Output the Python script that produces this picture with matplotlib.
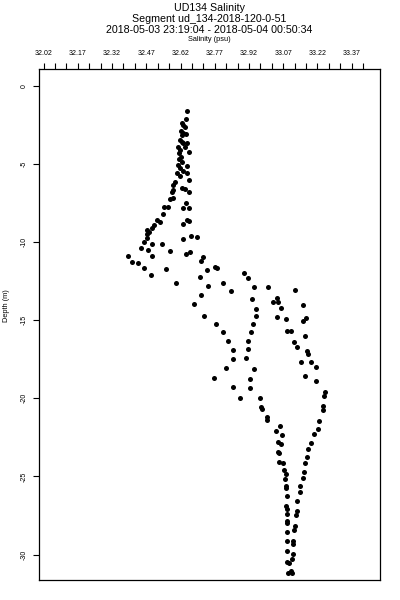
#!/usr/bin/env python

import numpy as np
import matplotlib
matplotlib.use("Agg")
import matplotlib.pyplot as plt

plt.rcParams["font.family"] = ["Liberation Sans", "DejaVu Sans"]

# Upper mixed column
sal_upper = [32.648, 32.646, 32.626, 32.633, 32.640, 32.621, 32.633, 32.626, 32.643, 32.618,
             32.626, 32.633, 32.650, 32.611, 32.640, 32.618, 32.655, 32.615, 32.621, 32.615,
             32.626, 32.648, 32.611, 32.618, 32.630, 32.648, 32.604, 32.618, 32.655, 32.597,
             32.626, 32.640, 32.589, 32.589, 32.582, 32.655, 32.572, 32.589, 32.645, 32.548,
             32.567, 32.630, 32.659]
depth_upper = [-1.58, -2.08, -2.39, -2.50, -2.61, -2.86, -2.99, -3.14, -3.09, -3.46,
               -3.57, -3.67, -3.63, -3.89, -3.89, -4.10, -4.21, -4.31, -4.53, -4.69,
               -4.85, -5.12, -5.06, -5.27, -5.42, -5.55, -5.59, -5.76, -6.02, -6.13,
               -6.55, -6.61, -6.34, -6.66, -6.81, -6.81, -7.23, -7.15, -7.51, -7.73,
               -7.77, -7.83, -7.79]

# Pycnocline region
sal_mid = [32.543, 32.516, 32.528, 32.648, 32.658, 32.633, 32.506, 32.495, 32.475, 32.484,
           32.473, 32.475, 32.462, 32.495, 32.541, 32.630, 32.667, 32.694, 32.448, 32.477,
           32.575, 32.388, 32.495, 32.645, 32.662, 32.407, 32.433, 32.458, 32.557, 32.491,
           32.600, 32.718, 32.709, 32.734, 32.707, 32.772, 32.782, 32.805, 32.842, 32.899,
           32.915]
depth_mid = [-8.21, -8.58, -8.73, -8.58, -8.64, -8.85, -8.90, -9.11, -9.22, -9.33,
             -9.49, -9.71, -9.97, -10.13, -10.12, -9.80, -9.58, -9.69, -10.39, -10.50,
             -10.56, -10.86, -10.88, -10.77, -10.65, -11.25, -11.31, -11.67, -11.72, -12.10,
             -12.59, -10.97, -11.18, -11.80, -12.23, -11.57, -11.67, -12.63, -13.10, -11.99,
             -12.27]

# Profile branches below the pycnocline
sal_a = [32.742, 32.709, 32.677, 32.725, 32.775, 32.805, 32.829, 32.852, 32.849, 32.820,
         32.767, 32.849, 32.881]
depth_a = [-12.80, -13.38, -13.96, -14.71, -15.22, -15.75, -16.31, -16.88, -17.48, -18.05,
           -18.67, -19.29, -19.99]

sal_b = [32.942, 33.005, 32.934, 32.952, 32.952, 32.939, 32.928, 32.917, 32.915, 32.906,
         32.944, 32.923, 32.923, 32.969, 32.973, 32.977, 33.001, 33.001]
depth_b = [-12.85, -12.89, -13.66, -14.28, -14.74, -15.24, -15.77, -16.31, -16.86, -17.43,
           -18.15, -18.78, -19.35, -19.96, -20.58, -20.70, -21.17, -21.40]

sal_c = [33.120, 33.042, 33.027, 33.046, 33.059, 33.044, 33.081, 33.085, 33.104, 33.119,
         33.132, 33.149, 33.166, 33.214, 33.251, 33.250, 33.246, 33.243]
depth_c = [-13.06, -13.55, -13.83, -13.81, -14.19, -14.77, -14.94, -15.69, -15.70, -16.37,
           -16.69, -17.65, -18.58, -18.90, -19.58, -19.85, -20.49, -20.74]

sal_d = [33.155, 33.155, 33.171, 33.166, 33.173, 33.180, 33.193, 33.214]
depth_d = [-14.02, -15.04, -14.87, -16.00, -16.95, -17.16, -17.67, -17.96]

# Deep part
sal_deep1 = [33.054, 33.040, 33.064, 33.046, 33.059, 33.045, 33.052, 33.052, 33.071, 33.075,
             33.081, 33.078, 33.081, 33.082, 33.085, 33.082, 33.085, 33.085, 33.088, 33.088,
             33.088, 33.088, 33.088, 33.088, 33.096, 33.090, 33.103, 33.107]
depth_deep1 = [-21.77, -22.07, -22.37, -22.78, -22.92, -23.42, -23.48, -24.05, -24.12, -24.58,
               -24.86, -25.16, -25.61, -25.72, -26.23, -26.87, -27.10, -27.40, -27.83, -28.00,
               -28.53, -29.15, -29.77, -30.47, -30.56, -31.16, -31.05, -31.20]

sal_deep2 = [33.226, 33.224, 33.205, 33.192, 33.178, 33.175, 33.167, 33.161, 33.155, 33.145,
             33.144, 33.132, 33.129, 33.125, 33.122, 33.118, 33.114, 33.112, 33.112, 33.107]
depth_deep2 = [-21.43, -21.98, -22.31, -22.87, -23.23, -23.76, -24.12, -24.69, -25.08, -25.61,
               -25.97, -26.57, -27.21, -27.48, -28.15, -28.43, -29.11, -29.34, -29.96, -30.30]

sal = sal_upper + sal_mid + sal_a + sal_b + sal_c + sal_d + sal_deep1 + sal_deep2
depth = depth_upper + depth_mid + depth_a + depth_b + depth_c + depth_d + depth_deep1 + depth_deep2

xtick_major = [32.02, 32.17, 32.32, 32.47, 32.62, 32.77, 32.92, 33.07, 33.22, 33.37]
ytick_major = [0, -5, -10, -15, -20, -25, -30]

W, H = 400, 600
fig = plt.figure(figsize=(4, 6), dpi=100)
ax = fig.add_axes([39 / W, 1 - 580 / H, (380 - 39) / W, (580 - 69) / H])

ax.scatter(sal, depth, s=13, c="black", marker="o", linewidths=0)

ax.set_xlim(32.0, 33.494)
ax.set_ylim(-31.63, 1.09)

ax.xaxis.tick_top()
ax.set_xticks(xtick_major)
ax.set_xticks(np.arange(32.02, 33.43, 0.05), minor=True)
ax.set_xticklabels(["%.2f" % v for v in xtick_major])
ax.tick_params(axis="x", which="both", length=4.3, width=0.8, pad=4.5, labelsize=5)
ax.set_yticks(ytick_major)
ax.set_yticklabels([str(v) for v in ytick_major], rotation=90, va="center")
ax.tick_params(axis="y", length=4.3, width=0.8, pad=4, labelsize=5)
for sp in ax.spines.values():
    sp.set_linewidth(0.9)

def fig_text(x, y, s, **kw):
    fig.text(x / W, 1 - y / H, s, ha="center", va="center", **kw)

fig_text(209.5, 8, "UD134 Salinity", fontsize=7.7)
fig_text(209.5, 19, "Segment ud_134-2018-120-0-51", fontsize=7.7)
fig_text(209.5, 30, "2018-05-03 23:19:04 - 2018-05-04 00:50:34", fontsize=7.7)
fig_text(209.5, 39.5, "Salinity (psu)", fontsize=5.3)
fig_text(7, 306, "Depth (m)", fontsize=5.3, rotation=90)

fig.savefig("out.png", dpi=100)
